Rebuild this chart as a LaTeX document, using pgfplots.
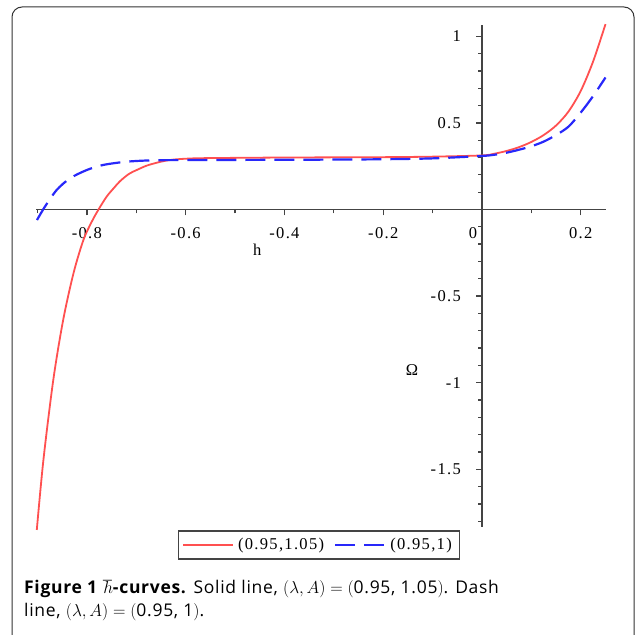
\documentclass[border=0pt]{standalone}
\usepackage{fontspec}
\usepackage{pgfplots}
\pgfplotsset{compat=1.18}
\setmainfont{Liberation Serif}
\newfontfamily\plotfont[LetterSpace=8]{Liberation Serif}
\newfontfamily\capfont[LetterSpace=4]{Open Sans}
\definecolor{axisgray}{HTML}{444444}
\definecolor{framegray}{HTML}{333333}
\definecolor{cred}{RGB}{255,80,80}
\definecolor{cblue}{RGB}{40,40,250}
\begin{document}
\begin{tikzpicture}[x=1pt,y=1pt]
\useasboundingbox (0,0) rectangle (635,635);
\draw[framegray, line width=1pt, rounded corners=10pt] (12,-20) -- (12,628) -- (634,628) -- (634,-20);
\begin{axis}[
  anchor=south west, at={(36pt,108pt)},
  scale only axis, width=570pt, height=502pt,
  xmin=-0.903, xmax=0.251, ymin=-1.833, ymax=1.065,
  axis lines=middle,
  axis line style={-, draw=axisgray, line width=1.4pt},
  clip=false,
  hide obscured x ticks=false,
  tick align=outside,
  major tick length=6pt, minor tick length=4pt,
  tick style={axisgray, line width=1.3pt},
  xtick={-0.8,-0.6,-0.4,-0.2,0,0.2},
  xticklabels={-0.8,-0.6,-0.4,-0.2,{\makebox[0pt][r]{0\hspace{5pt}}},0.2},
  minor xtick={-0.9,-0.7,-0.5,-0.3,-0.1,0.1},
  ytick={-1.5,-1,-0.5,0.5,1},
  yticklabels={-1.5,-1,-0.5,0.5,1},
  minor ytick={-1.8,-1.7,-1.6,-1.4,-1.3,-1.2,-1.1,-0.9,-0.8,-0.7,-0.6,-0.4,-0.3,-0.2,-0.1,0.1,0.2,0.3,0.4,0.6,0.7,0.8,0.9},
  xticklabel style={font=\plotfont\fontsize{16.5}{18}\selectfont, anchor=north, inner sep=0pt, yshift=-12pt},
  yticklabel style={font=\plotfont\fontsize{16.5}{18}\selectfont, anchor=east, inner sep=0pt, xshift=-15pt},
  legend columns=-1,
  legend style={at={(axis description cs:0.4965,-0.0359)}, anchor=center,
    draw=axisgray, line width=1.4pt, font=\plotfont\fontsize{16.5}{18}\selectfont,
    inner xsep=4pt, inner ysep=4pt,
    nodes={inner xsep=4pt, inner ysep=3.5pt},
    /tikz/every even column/.append style={column sep=6pt}},
  legend image code/.code={\draw[#1] (0pt,0pt) -- (50pt,0pt);},
]
\addplot[cred, line width=1.8pt, smooth] coordinates {
(-0.9014,-1.850) (-0.888,-1.446) (-0.868,-0.984) (-0.848,-0.638) (-0.827,-0.367)
(-0.807,-0.176) (-0.790,-0.070) (-0.777,-0.003) (-0.760,0.074) (-0.745,0.125)
(-0.733,0.163) (-0.715,0.205) (-0.699,0.228) (-0.680,0.252) (-0.665,0.265)
(-0.645,0.279) (-0.625,0.288) (-0.600,0.293) (-0.571,0.296) (-0.5,0.298)
(-0.4,0.300) (-0.3,0.301) (-0.2,0.302) (-0.1,0.305) (0,0.312) (0.025,0.322)
(0.05,0.338) (0.075,0.360) (0.1,0.390) (0.125,0.430) (0.15,0.485) (0.175,0.565)
(0.2,0.685) (0.225,0.855) (0.25,1.07)
};
\addlegendentry{(0.95,1.05)}
\addplot[cblue, line width=2.2pt, dash pattern=on 20pt off 9pt, smooth] coordinates {
(-0.901,-0.061) (-0.885,0.016) (-0.861,0.113) (-0.834,0.180) (-0.800,0.228)
(-0.767,0.257) (-0.719,0.276) (-0.665,0.284) (-0.6,0.285) (-0.5,0.286)
(-0.4,0.287) (-0.3,0.288) (-0.2,0.290) (-0.1,0.295) (0,0.309) (0.025,0.316)
(0.05,0.328) (0.075,0.345) (0.1,0.365) (0.125,0.392) (0.15,0.430) (0.175,0.478)
(0.2,0.560) (0.225,0.655) (0.25,0.762)
};
\addlegendentry{(0.95,1)}
\node[font=\plotfont\fontsize{16.5}{18}\selectfont] at (axis cs:-0.455,-0.234) {h};
\node[font=\plotfont\fontsize{16.5}{18}\selectfont] at (axis cs:-0.142,-0.927) {Ω};
\end{axis}
\node[anchor=base west, inner sep=0pt, font=\capfont\fontsize{17.5}{20}\selectfont] at (24,41)
  {\textbf{Figure 1} $\hbar$\textbf{-curves.} Solid line, $(\lambda,A)=($0.95, 1.05$)$. Dash};
\node[anchor=base west, inner sep=0pt, font=\capfont\fontsize{17.5}{20}\selectfont] at (24,18)
  {line, $(\lambda,A)=($0.95, 1$)$.};
\end{tikzpicture}
\end{document}
